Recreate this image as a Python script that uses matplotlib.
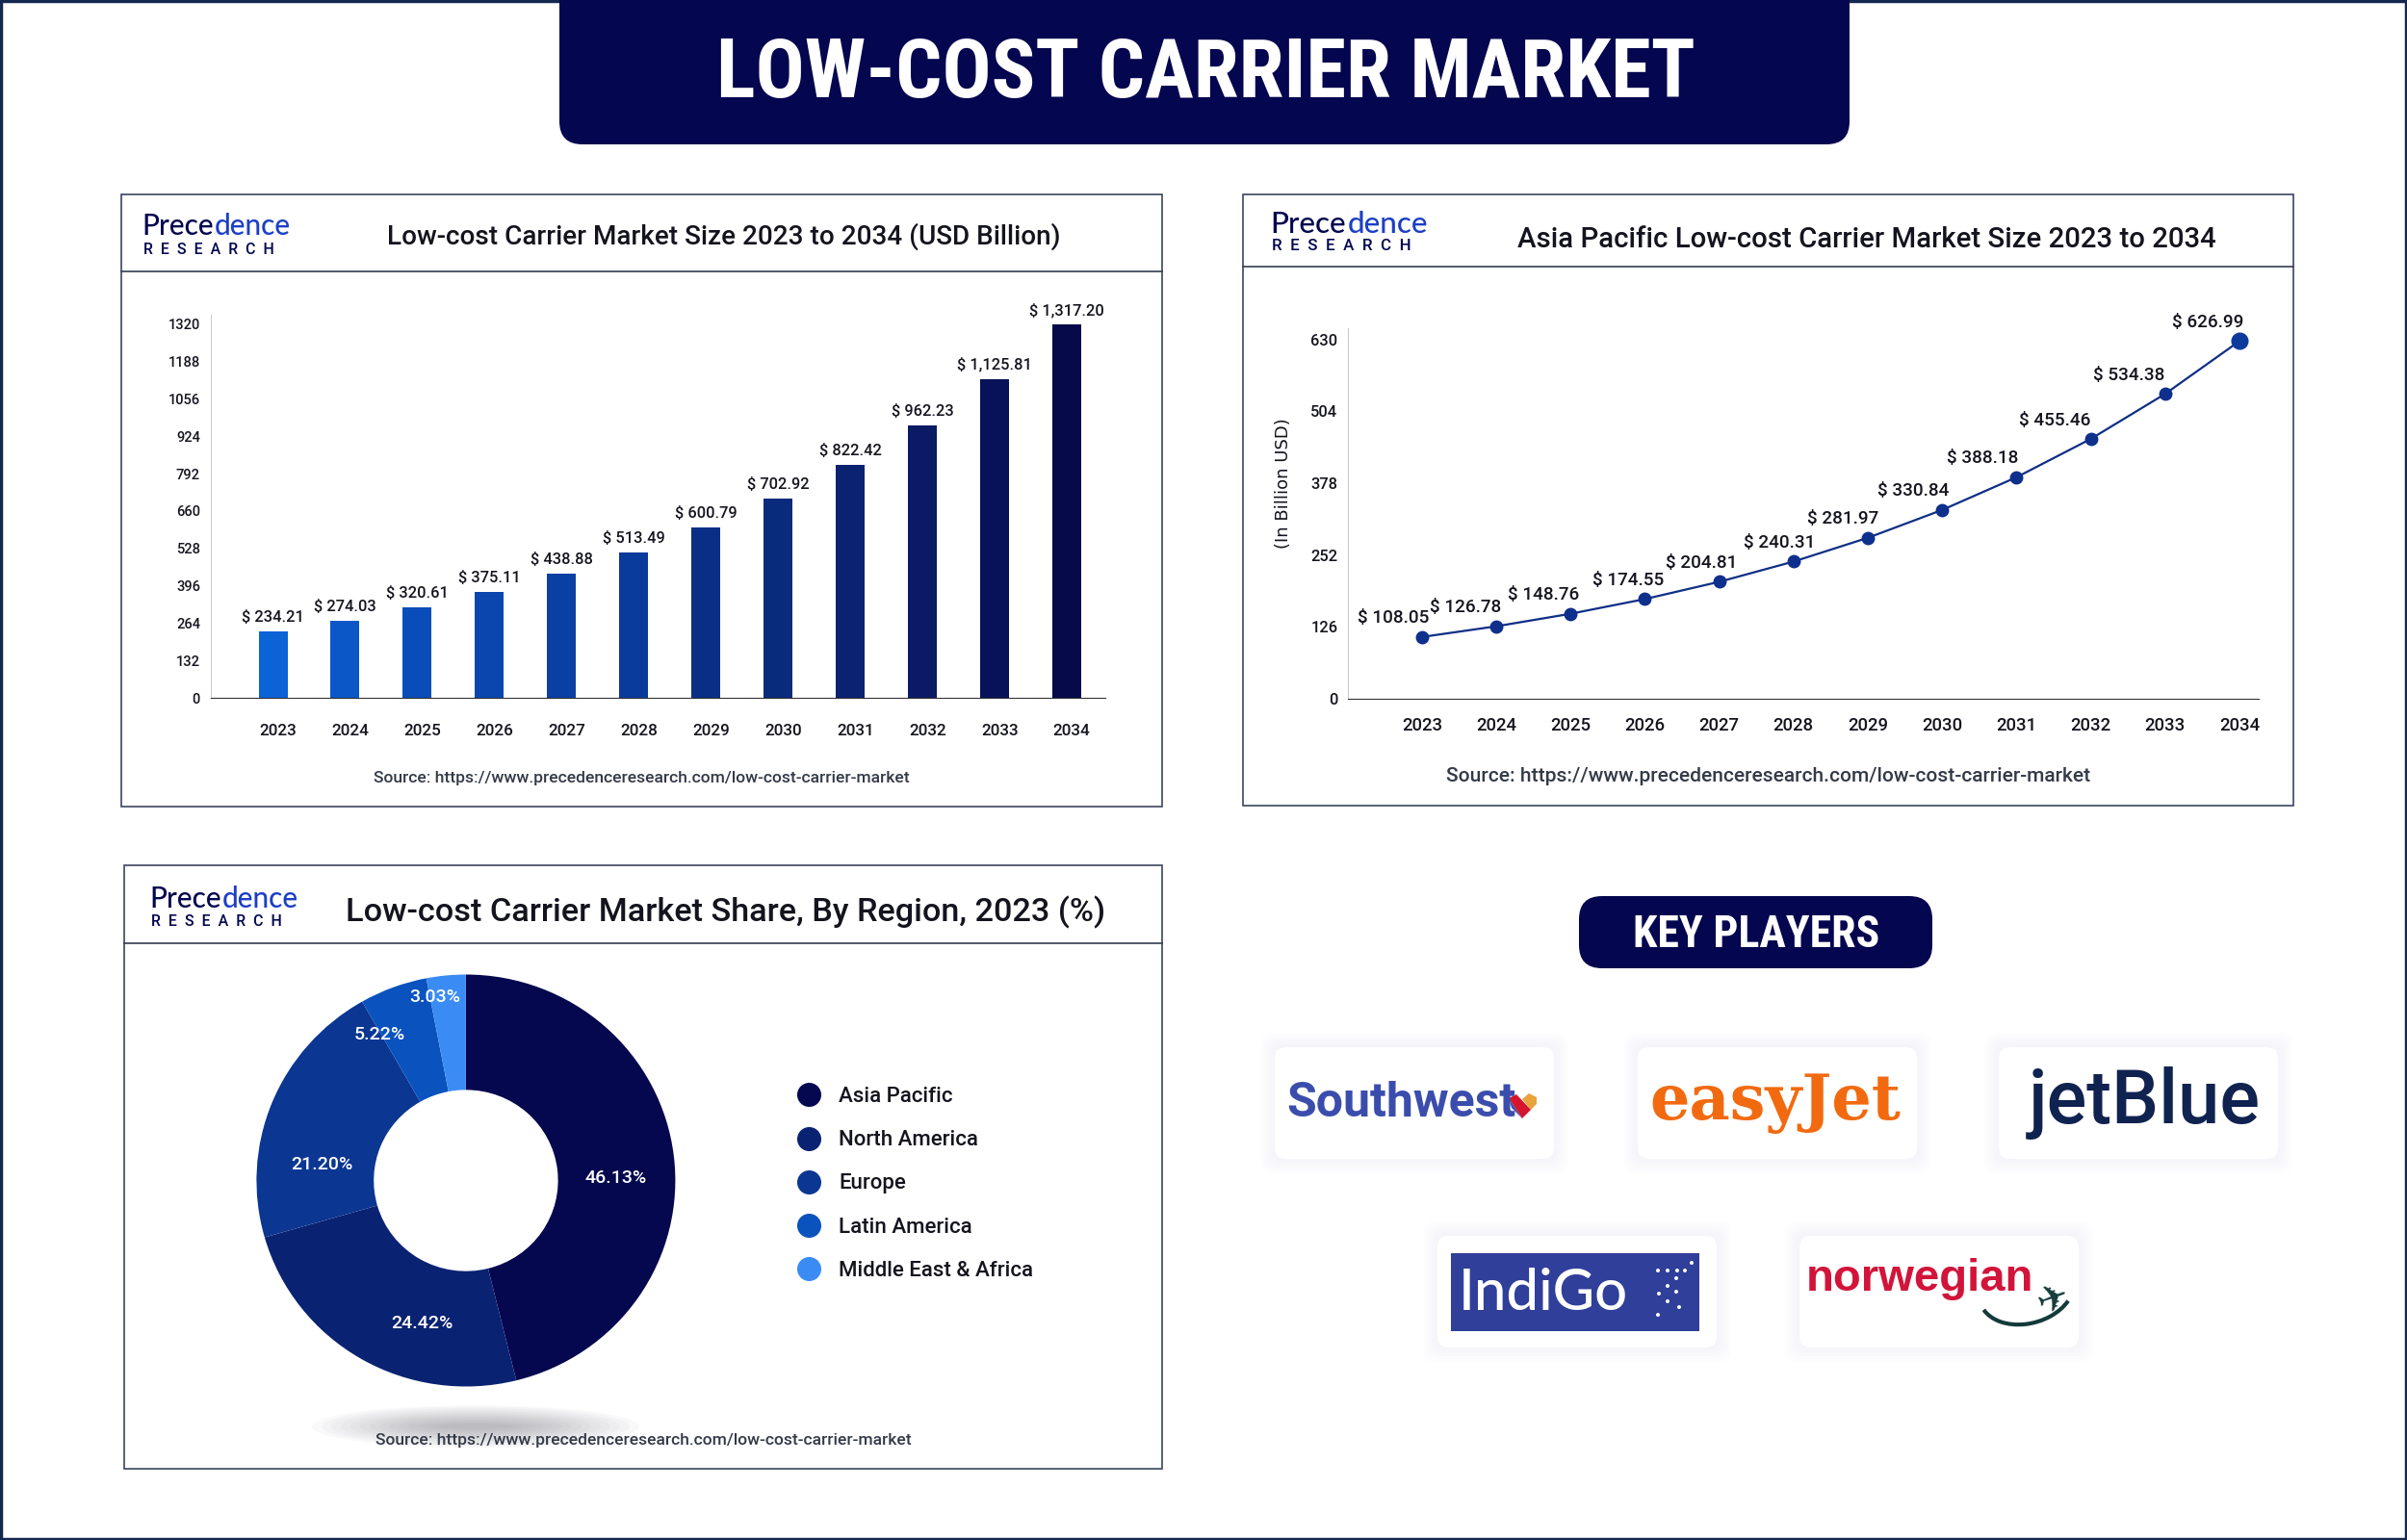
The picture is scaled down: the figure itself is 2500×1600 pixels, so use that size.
import numpy as np
import matplotlib.pyplot as plt
from matplotlib.patches import FancyBboxPatch, Rectangle, Ellipse, Polygon, Arc
from matplotlib.lines import Line2D

plt.rcParams['font.family'] = ['Roboto', 'DejaVu Sans']
plt.rcParams['font.weight'] = 'medium'

years = ['2023', '2024', '2025', '2026', '2027', '2028', '2029', '2030', '2031', '2032', '2033', '2034']
market_size = [234.21, 274.03, 320.61, 375.11, 438.88, 513.49, 600.79, 702.92, 822.42, 962.23, 1125.81, 1317.20]
market_labels = ['$ 234.21', '$ 274.03', '$ 320.61', '$ 375.11', '$ 438.88', '$ 513.49', '$ 600.79', '$ 702.92', '$ 822.42', '$ 962.23', '$ 1,125.81', '$ 1,317.20']
size_ticks = [0, 132, 264, 396, 528, 660, 792, 924, 1056, 1188, 1320]

asia_size = [108.05, 126.78, 148.76, 174.55, 204.81, 240.31, 281.97, 330.84, 388.18, 455.46, 534.38, 626.99]
asia_ticks = [0, 126, 252, 378, 504, 630]

regions = ['Asia Pacific', 'North America', 'Europe', 'Latin America', 'Middle East & Africa']
shares = [46.13, 24.42, 21.20, 5.22, 3.03]

players = ['Southwest', 'easyJet', 'jetBlue', 'IndiGo', 'norwegian']

navy = '#04064F'
narrow = ['Roboto Condensed', 'Roboto', 'DejaVu Sans']
bar_colors = ['#0B63D6', '#0B57C8', '#0A4DB8', '#0A46AE', '#0A40A4', '#0A3A9C', '#0A2E86', '#0A2A7C', '#0A2270', '#0A1A64', '#081258', '#060A4A']
region_colors = ['#05074F', '#0A2272', '#0B3692', '#0A52BE', '#3A8CF4']
source = 'Source: https://www.precedenceresearch.com/low-cost-carrier-market'

plt.figure(figsize=(25, 16), dpi=100)

# page layer, in pixels
page = plt.axes([0, 0, 1, 1])
plt.xlim(0, 2500)
plt.ylim(1600, 0)
plt.axis('off')
page.add_patch(Rectangle((1, 1), 2498, 1598, fc='white', ec='#14284f', lw=2.5))
page.add_patch(FancyBboxPatch((595, -60), 1312, 196, boxstyle='round,pad=14,rounding_size=24', fc=navy, ec='none'))
plt.text(1252, 78, 'LOW-COST CARRIER MARKET', color='white', ha='center', va='center', fontsize=61, family=narrow, weight='bold')

panels = [(126, 202, 1081, 636, 282), (1291, 202, 1091, 635, 277), (129, 899, 1078, 627, 980)]
for p in panels:
  page.add_patch(Rectangle((p[0], p[1]), p[2], p[3], fc='white', ec='#3b4660', lw=1.2))
  plt.plot([p[0], p[0] + p[2]], [p[4], p[4]], color='#333c50', lw=1.2)

plt.text(752, 246, 'Low-cost Carrier Market Size 2023 to 2034 (USD Billion)', ha='center', va='center', fontsize=20.1, color='#14141e')
plt.text(1939, 249, 'Asia Pacific Low-cost Carrier Market Size 2023 to 2034', ha='center', va='center', fontsize=21.2, color='#14141e')
plt.text(754, 948, 'Low-cost Carrier Market Share, By Region, 2023 (%)', ha='center', va='center', fontsize=24.7, color='#14141e')

plt.text(666, 808, source, ha='center', va='center', fontsize=12.6, color='#333a48')
plt.text(1837, 806, source, ha='center', va='center', fontsize=15.1, color='#333a48')
plt.text(668, 1496, source, ha='center', va='center', fontsize=12.6, color='#333a48')

# brand mark on each panel
for x, y1, y2, w in [(147, 235, 259, 155), (1319, 233, 255, 164), (155, 934, 957, 155)]:
  plt.text(x, y1, 'Prece', ha='left', va='center', fontsize=w*0.138, color=navy, family='Lato')
  plt.text(x + w, y1, 'dence', ha='right', va='center', fontsize=w*0.138, color='#1c3fc4', family='Lato')
  plt.text(x + 2, y2, 'R  E  S  E  A  R  C  H', ha='left', va='center', fontsize=w*0.074, color=navy)

# shadow under the donut
for k in range(14):
  page.add_patch(Ellipse((494, 1482), 340 - 20*k, 44 - 3*k, fc='#555560', ec='none', alpha=0.03))

# key players
page.add_patch(FancyBboxPatch((1664, 955), 319, 27, boxstyle='round,pad=24,rounding_size=24', fc=navy, ec='none'))
plt.text(1824, 971, 'KEY PLAYERS', color='white', ha='center', va='center', fontsize=33, family=narrow, weight='bold')

cards = [(1324, 1088), (1701, 1088), (2076, 1088), (1493, 1284), (1869, 1284)]
for c in cards:
  for k in range(6):
    page.add_patch(FancyBboxPatch((c[0] + 6, c[1] + 6), 278, 104, boxstyle='round,pad=%d,rounding_size=12' % (6 + 3*k), fc='#c8cfe0', ec='none', alpha=0.03))
  page.add_patch(FancyBboxPatch((c[0] + 6, c[1] + 6), 278, 104, boxstyle='round,pad=6,rounding_size=12', fc='white', ec='none'))

plt.text(1336, 1146, players[0], ha='left', va='center', fontsize=36, weight='bold', color='#3B4DAC')
page.add_patch(Polygon([[1581, 1142], [1588, 1136], [1596, 1140], [1596, 1147], [1590, 1153]], fc='#E8A33D', ec='none'))
page.add_patch(Polygon([[1567, 1141], [1575, 1137], [1590, 1153], [1581, 1162]], fc='#D5152E', ec='none'))
page.add_patch(Polygon([[1567, 1141], [1581, 1162], [1570, 1151]], fc='#3B4DAC', ec='none'))

plt.text(1844, 1146, players[1], ha='center', va='center', fontsize=47, weight='bold', color='#F26A10', family='DejaVu Serif')
plt.text(2227, 1146, players[2], ha='center', va='center', fontsize=56, color='#10224F')

page.add_patch(Rectangle((1507, 1302), 258, 81, fc='#2F3F9A', ec='none'))
plt.text(1515, 1344, players[3], ha='left', va='center', fontsize=43, color='white', family='Lato')
for dot in [(1723, 1344), (1732, 1336), (1741, 1328), (1750, 1320), (1757, 1312), (1722, 1366), (1732, 1352), (1741, 1342), (1744, 1358), (1722, 1320), (1732, 1320), (1742, 1320)]:
  page.add_patch(Ellipse(dot, 4, 4, fc='white', ec='none'))

plt.text(1876, 1329, players[4], ha='left', va='center', fontsize=34, weight='bold', color='#D2143A', family='Liberation Sans')
page.add_patch(Arc((2105, 1340), 100, 70, angle=-15, theta1=30, theta2=170, ec='#123B3A', lw=3))
plt.text(2133, 1350, '\u2708', ha='center', va='center', fontsize=28, color='#123B3A', family='DejaVu Sans', rotation=20)

# market size bars
plt.axes([219/2500, (1600 - 725.4)/1600, 929/2500, 398.6/1600], facecolor='none')
x = np.arange(len(years))
bars = plt.bar(x, market_size, width=0.4, color=bar_colors)
for i in range(len(years)):
  plt.annotate(market_labels[i], (x[i], market_size[i]), xytext=(0, 5), textcoords='offset points', ha='center', va='bottom', fontsize=11.8, color='#14141e')
plt.xticks(x + 0.07, years, fontsize=12.3, color='#14141e')
plt.yticks(size_ticks, fontsize=10.5, color='#14141e')
plt.tick_params(length=0)
plt.tick_params(axis='x', pad=19)
plt.tick_params(axis='y', pad=8)
plt.xlim(-0.861, 11.534)
plt.ylim(0, 1353)
plt.gca().spines[['top', 'right']].set_visible(False)
plt.gca().spines['left'].set_color('#cccccc')
plt.gca().spines['bottom'].set_color('#333333')

# asia pacific line
plt.axes([1400.4/2500, (1600 - 725.8)/1600, 945.6/2500, 385/1600], facecolor='none')
label_dx = [-30, -32, -28, -17, -18, -15, -26, -30, -35, -37, -38, -33]
plt.plot(x, asia_size, color='#0F2F85', lw=1.6)
plt.plot(x[:-1], asia_size[:-1], 'o', color='#0E2F8C', ms=9)
plt.plot(x[-1:], asia_size[-1:], 'o', color='#0E3A9C', ms=12)
for i in range(len(years)):
  plt.annotate('$ %.2f' % asia_size[i], (x[i], asia_size[i]), xytext=(label_dx[i]*0.72, 14), textcoords='offset points', ha='center', va='center', fontsize=13.6, color='#14141e')
plt.xticks(x, years, fontsize=13.3, color='#14141e')
plt.yticks(asia_ticks, fontsize=11.8, color='#14141e')
plt.ylabel('(In Billion USD)', fontsize=13, family='DejaVu Sans', color='#14141e', labelpad=14, y=0.58)
plt.tick_params(length=0)
plt.tick_params(axis='x', pad=13.5)
plt.tick_params(axis='y', pad=8)
plt.xlim(-0.99, 11.26)
plt.ylim(0, 650)
plt.gca().spines[['top', 'right']].set_visible(False)
plt.gca().spines['left'].set_color('#cccccc')
plt.gca().spines['bottom'].set_color('#333333')

# regional share donut
plt.axes([266.4/2500, (1600 - 1440.5)/1600, 435/2500, 428/1600])
plt.pie(shares, colors=region_colors, startangle=90, counterclock=False, radius=1, wedgeprops=dict(width=0.56))
plt.gca().set_aspect('auto')
share_xy = [(0.717, 0.011), (-0.21, -0.695), (-0.688, 0.077), (-0.41, 0.71), (-0.15, 0.89)]
for i in range(len(shares)):
  plt.text(share_xy[i][0], share_xy[i][1], '%.2f%%' % shares[i], color='white', ha='center', va='center', fontsize=14)
plt.xlim(-1, 1)
plt.ylim(-1, 1)
handles = [Line2D([], [], marker='o', ls='none', color=c, ms=17) for c in region_colors]
plt.legend(handles, regions, loc='center left', bbox_to_anchor=(797.6/2500, (1600 - 1230)/1600), bbox_transform=plt.gcf().transFigure, frameon=False, fontsize=16, labelspacing=1.09, handletextpad=0.4, labelcolor='#14141e')

plt.savefig('out.png', dpi=100)
plt.close()
